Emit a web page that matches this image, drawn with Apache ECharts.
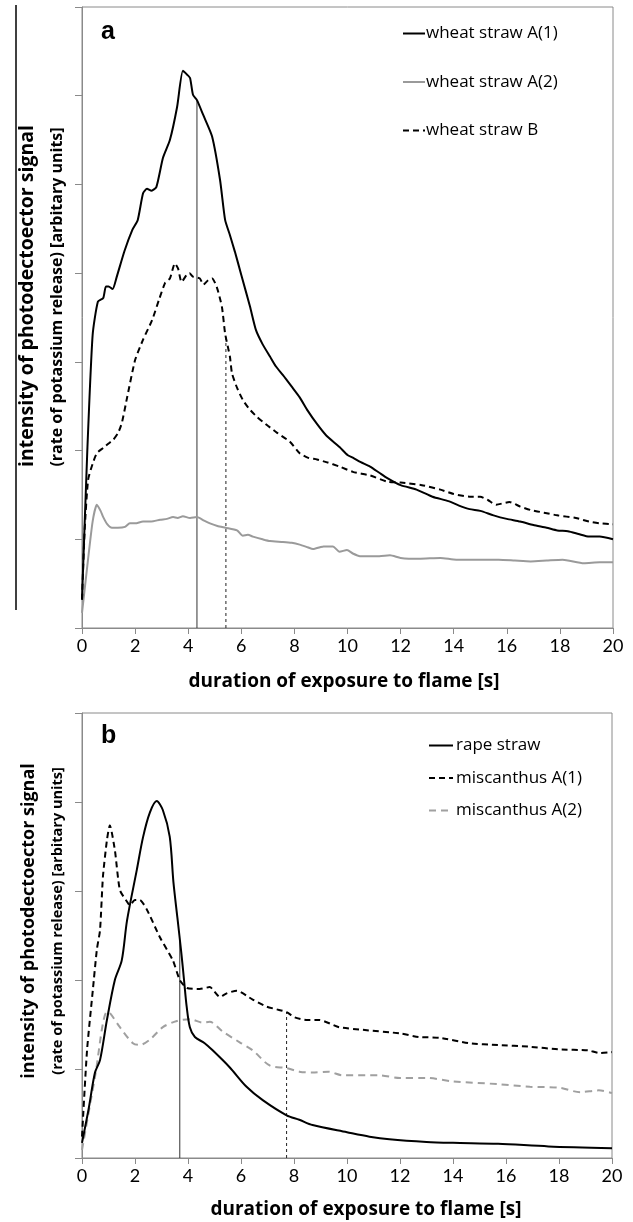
<!DOCTYPE html>
<html>
<head>
<meta charset="utf-8">
<script src="https://cdn.jsdelivr.net/npm/echarts@6/dist/echarts.min.js"></script>
<style>
html,body{margin:0;padding:0;background:#fff;}
#chart{width:633px;height:1222px;}
</style>
</head>
<body>
<div id="chart"></div>
<script>
// x tick values (s)
var xTicks = [0,2,4,6,8,10,12,14,16,18,20];

// ---- Panel a ----
var wheatA1 = [[0,0.32],[0.2,2.0],[0.4,3.3],[0.6,3.68],[0.8,3.72],[0.9,3.85],[1.0,3.85],[1.15,3.82],[1.3,3.95],[1.6,4.25],[1.9,4.49],[2.1,4.6],[2.3,4.9],[2.45,4.95],[2.6,4.93],[2.8,4.97],[3.05,5.3],[3.31,5.5],[3.58,5.87],[3.8,6.28],[3.95,6.24],[4.07,6.2],[4.18,6.01],[4.33,5.95],[4.57,5.78],[4.9,5.54],[5.2,5.05],[5.39,4.6],[5.57,4.43],[5.76,4.24],[6.0,3.98],[6.33,3.62],[6.55,3.36],[6.8,3.2],[7.08,3.06],[7.3,2.95],[7.57,2.85],[7.9,2.72],[8.2,2.6],[8.5,2.45],[8.85,2.3],[9.2,2.17],[9.7,2.04],[10.0,1.95],[10.2,1.92],[10.5,1.87],[10.85,1.82],[11.2,1.75],[11.5,1.69],[12.0,1.61],[12.6,1.56],[13.2,1.48],[13.8,1.43],[14.2,1.38],[14.6,1.34],[15.0,1.32],[15.5,1.27],[16.0,1.23],[16.5,1.2],[17.0,1.16],[17.5,1.13],[17.9,1.1],[18.3,1.09],[18.7,1.06],[19.1,1.03],[19.5,1.03],[20,1.0]];
var wheatA2 = [[0,0.17],[0.2,0.7],[0.4,1.2],[0.56,1.39],[0.7,1.32],[0.8,1.25],[0.95,1.17],[1.13,1.13],[1.35,1.13],[1.62,1.14],[1.8,1.18],[2.0,1.18],[2.3,1.2],[2.6,1.2],[2.94,1.22],[3.2,1.23],[3.43,1.25],[3.6,1.24],[3.8,1.26],[4.07,1.24],[4.33,1.25],[4.6,1.21],[4.82,1.18],[5.1,1.15],[5.4,1.13],[5.84,1.1],[6.06,1.04],[6.25,1.05],[6.44,1.03],[6.8,1.0],[7.08,0.98],[7.57,0.97],[7.9,0.96],[8.2,0.94],[8.5,0.91],[8.7,0.89],[8.96,0.91],[9.1,0.92],[9.45,0.92],[9.7,0.86],[9.98,0.88],[10.2,0.84],[10.47,0.81],[11.2,0.81],[11.6,0.82],[12.0,0.79],[12.7,0.78],[13.5,0.79],[14.1,0.77],[15.7,0.77],[16.3,0.76],[16.9,0.75],[17.5,0.76],[18.1,0.77],[18.9,0.73],[19.5,0.74],[20,0.74]];
var wheatB = [[0,0.32],[0.1,1.1],[0.23,1.67],[0.4,1.85],[0.56,1.97],[0.8,2.03],[1.0,2.08],[1.17,2.12],[1.36,2.2],[1.5,2.31],[1.7,2.6],[2.0,3.02],[2.3,3.25],[2.64,3.47],[2.9,3.7],[3.13,3.89],[3.31,3.94],[3.5,4.11],[3.62,4.05],[3.75,3.9],[3.94,3.98],[4.05,4.0],[4.18,3.96],[4.44,3.94],[4.57,3.87],[4.75,3.92],[4.9,3.94],[5.08,3.84],[5.27,3.62],[5.39,3.32],[5.57,3.06],[5.65,2.87],[5.85,2.7],[6.06,2.57],[6.3,2.47],[6.59,2.38],[7.0,2.28],[7.35,2.2],[7.83,2.1],[8.2,1.97],[8.5,1.92],[8.85,1.9],[9.2,1.87],[9.7,1.82],[10.2,1.76],[10.85,1.72],[11.5,1.65],[12.0,1.64],[12.8,1.61],[13.5,1.56],[14.0,1.51],[14.6,1.48],[15.0,1.48],[15.3,1.44],[15.6,1.39],[16.1,1.42],[16.5,1.37],[16.9,1.33],[17.4,1.3],[17.9,1.27],[18.6,1.24],[19.1,1.2],[19.5,1.18],[20,1.17]];
var markA1 = [[4.33,0],[4.33,5.95]];
var markB  = [[5.42,0],[5.42,3.3]];

// ---- Panel b ----
var rape = [[0,0.17],[0.25,0.55],[0.49,0.96],[0.68,1.1],[0.94,1.55],[1.24,2.0],[1.5,2.22],[1.7,2.67],[2.07,3.24],[2.3,3.6],[2.56,3.88],[2.82,4.01],[3.05,3.91],[3.31,3.61],[3.45,3.1],[3.6,2.7],[3.75,2.3],[3.85,2.0],[3.95,1.7],[4.07,1.47],[4.26,1.36],[4.63,1.29],[4.93,1.21],[5.57,1.02],[6.21,0.8],[6.82,0.65],[7.72,0.48],[8.2,0.43],[8.7,0.37],[10,0.29],[10.85,0.24],[11.6,0.21],[13,0.18],[14,0.17],[15.7,0.16],[17.6,0.13],[20,0.11]];
var miscA1 = [[0,0.24],[0.19,1.21],[0.41,1.89],[0.56,2.34],[0.68,2.56],[0.79,3.16],[0.94,3.57],[1.05,3.74],[1.24,3.46],[1.43,3.01],[1.7,2.88],[1.8,2.84],[2.0,2.9],[2.18,2.9],[2.45,2.79],[2.94,2.48],[3.43,2.22],[3.69,2.0],[3.96,1.91],[4.44,1.9],[4.82,1.92],[5.2,1.81],[5.46,1.85],[5.84,1.88],[6.44,1.78],[6.97,1.7],[7.35,1.67],[7.72,1.64],[8.03,1.58],[8.5,1.55],[8.96,1.55],[9.7,1.47],[10.6,1.44],[12,1.4],[12.7,1.36],[13.5,1.35],[14.6,1.29],[15.7,1.27],[16.9,1.25],[18,1.22],[19.1,1.21],[19.5,1.18],[20,1.19]];
var miscA2 = [[0,0.09],[0.49,0.91],[0.94,1.64],[1.05,1.63],[1.43,1.47],[1.92,1.29],[2.18,1.27],[2.56,1.33],[3.05,1.47],[3.58,1.54],[4.07,1.56],[4.56,1.52],[4.82,1.53],[5.31,1.42],[5.95,1.3],[6.44,1.21],[7.08,1.04],[7.72,1.01],[8.2,0.97],[8.7,0.96],[9.3,0.97],[9.83,0.93],[11.2,0.93],[12,0.9],[13,0.9],[14,0.86],[15.7,0.83],[16.9,0.8],[18,0.79],[18.8,0.74],[19.5,0.76],[20,0.73]];
var markRape = [[3.69,0],[3.69,2.45]];
var markMisc = [[7.72,0],[7.72,1.64]];

var namesA = ['wheat straw A(1)','wheat straw A(2)','wheat straw B'];
var namesB = ['rape straw','miscanthus A(1)','miscanthus A(2)'];
var xTitle = 'duration of exposure to flame [s]';
var yTitle1 = 'intensity of photodectoector signal';
var yTitle2 = '(rate of potassium release) [arbitary units]';

var AX = '#8a8a8a';
var FONT = 'Lato';
var TFONT = '"Open Sans"';

function xAxisCfg(gi){
  return {gridIndex:gi,type:'value',min:0,max:20,interval:2,
    axisLine:{lineStyle:{color:AX,width:1}},
    axisTick:{show:true,inside:false,length:6,lineStyle:{color:AX}},
    axisLabel:{color:'#000',fontSize:18,fontFamily:FONT,margin:9},
    splitLine:{show:false}};
}
function yAxisCfg(gi,max){
  return {gridIndex:gi,type:'value',min:0,max:max,interval:1,
    axisLine:{show:true,lineStyle:{color:AX,width:1}},
    axisTick:{show:true,inside:false,length:7,lineStyle:{color:AX}},
    axisLabel:{show:false},splitLine:{show:false}};
}
function lineSeries(name,data,xi,color,type,width,smooth){
  return {name:name,type:'line',xAxisIndex:xi,yAxisIndex:xi,data:data,
    showSymbol:false,symbol:'none',smooth:smooth||false,animation:false,
    lineStyle:{color:color,width:width,type:type},itemStyle:{color:color}};
}
var legendItemStyle = {color:'rgba(0,0,0,0)',borderColor:'rgba(0,0,0,0)',borderWidth:0};

var chart = echarts.init(document.getElementById('chart'),null,{renderer:'canvas'});
chart.setOption({
  animation:false,
  backgroundColor:'#fff',
  grid:[
    {left:82,top:7,width:531,height:621,show:true,borderColor:AX,borderWidth:1,backgroundColor:'transparent'},
    {left:82,top:713,width:530,height:445,show:true,borderColor:AX,borderWidth:1,backgroundColor:'transparent'}
  ],
  xAxis:[xAxisCfg(0),xAxisCfg(1)],
  yAxis:[yAxisCfg(0,7),yAxisCfg(1,5)],
  legend:[
    {data:namesA,orient:'vertical',left:402,top:25,padding:0,itemWidth:22,itemHeight:14,itemGap:31.5,
      itemStyle:legendItemStyle,
      textStyle:{fontSize:17,fontFamily:TFONT,color:'#000',padding:[0,0,0,-4]}},
    {data:namesB,orient:'vertical',left:428,top:737,padding:0,itemWidth:24,itemHeight:14,itemGap:15.5,
      itemStyle:legendItemStyle,
      textStyle:{fontSize:17,fontFamily:TFONT,color:'#000',padding:[0,0,0,-2]}}
  ],
  series:[
    lineSeries('vA1',markA1,0,'#333','solid',1),
    lineSeries('vB',markB,0,'#222',[3,3],1),
    lineSeries(namesA[1],wheatA2,0,'#9a9a9a','solid',2,0.2),
    lineSeries(namesA[2],wheatB,0,'#000',[6,4],2,0.2),
    lineSeries(namesA[0],wheatA1,0,'#000','solid',2,0.2),
    lineSeries('vR',markRape,1,'#333','solid',1),
    lineSeries('vM',markMisc,1,'#222',[3,3],1),
    lineSeries(namesB[2],miscA2,1,'#a0a0a0',[7,5],2,0.3),
    lineSeries(namesB[1],miscA1,1,'#000',[6,4],2,0.2),
    lineSeries(namesB[0],rape,1,'#000','solid',2,0.3)
  ],
  graphic:[
    {type:'line',shape:{x1:16,y1:5,x2:16,y2:610},style:{stroke:'#000',lineWidth:1.5}},
    {type:'text',left:101,top:20,style:{text:'a',font:'bold 25px "Liberation Sans"',fill:'#000'}},
    {type:'text',left:101,top:724,style:{text:'b',font:'bold 25px "Liberation Sans"',fill:'#000'}},
    {type:'text',x:27,y:296,rotation:Math.PI/2,style:{text:yTitle1,font:'bold 19.5px "Open Sans"',fill:'#000',align:'center',verticalAlign:'middle'}},
    {type:'text',x:57,y:297,rotation:Math.PI/2,style:{text:yTitle2,font:'bold 16px "Open Sans"',fill:'#000',align:'center',verticalAlign:'middle'}},
    {type:'text',x:29,y:921,rotation:Math.PI/2,style:{text:yTitle1,font:'bold 18px "Open Sans"',fill:'#000',align:'center',verticalAlign:'middle'}},
    {type:'text',x:58,y:921,rotation:Math.PI/2,style:{text:yTitle2,font:'bold 14.5px "Open Sans"',fill:'#000',align:'center',verticalAlign:'middle'}},
    {type:'text',x:344,y:682,style:{text:xTitle,font:'bold 19px "Open Sans"',fill:'#000',align:'center',verticalAlign:'middle'}},
    {type:'text',x:366,y:1210,style:{text:xTitle,font:'bold 19px "Open Sans"',fill:'#000',align:'center',verticalAlign:'middle'}}
  ]
});
</script>
</body>
</html>
